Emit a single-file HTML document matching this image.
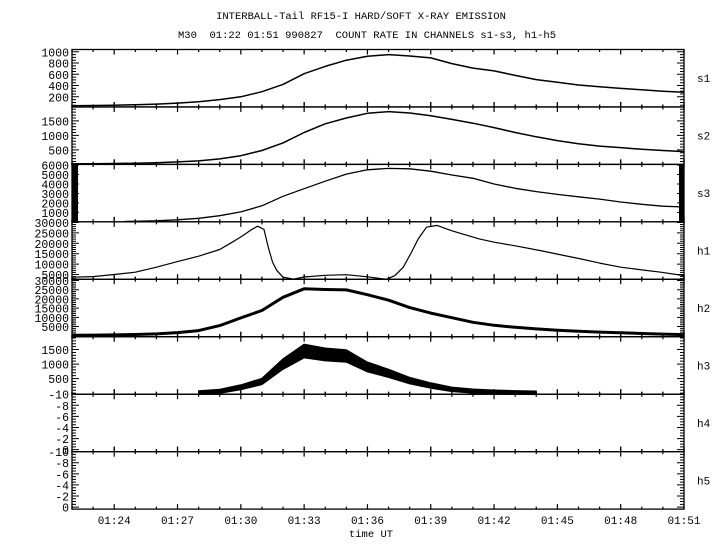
<!DOCTYPE html>
<html><head><meta charset="utf-8"><style>
html,body{margin:0;padding:0;background:#fff;}
svg{display:block;}
text{font-family:"Liberation Mono","DejaVu Sans Mono",monospace;fill:#000;}
</style></head><body>
<svg id="chart" width="720" height="550" viewBox="0 0 720 550" xmlns="http://www.w3.org/2000/svg">
<text x="361" y="19" font-size="10.5" text-anchor="middle">INTERBALL-Tail RF15-I HARD/SOFT X-RAY EMISSION</text>
<text x="367" y="38" font-size="10.5" text-anchor="middle" xml:space="preserve">M30  01:22 01:51 990827  COUNT RATE IN CHANNELS s1-s3, h1-h5</text>
<text x="371" y="537" font-size="10.5" text-anchor="middle">time UT</text>
<g id="plots"></g>
</svg>
<script>
// ---- data ----
const panelNames = ["s1","s2","s3","h1","h2","h3","h4","h5"];
const timeTickLabels = ["01:24","01:27","01:30","01:33","01:36","01:39","01:42","01:45","01:48","01:51"];
const timeTickMinutes = [2,5,8,11,14,17,20,23,26,29];
const minuteTimes = [0,1,2,3,4,5,6,7,8,9,10,11,12,13,14,15,16,17,18,19,20,21,22,23,24,25,26,27,28,29];
const s1Values = [40,45,50,60,70,88,112,150,200,290,420,610,740,850,920,950,925,890,790,710,660,580,505,460,410,380,350,325,300,280];
const s2Values = [20,25,30,40,60,85,120,190,300,480,740,1100,1400,1600,1760,1820,1770,1680,1550,1420,1270,1100,950,820,710,630,580,520,480,440];
const s3Times = [2.5,3,4,5,6,7,8,9,10,11,12,13,14,15,16,17,18,19,20,21,22,23,24,25,26,27,28,29];
const s3Values = [50,60,110,220,380,650,1050,1700,2700,3500,4300,5050,5500,5650,5600,5350,4950,4600,4000,3550,3200,2900,2650,2400,2100,1850,1650,1570];
const h1Times = [0,1,2,3,4,5,6,7,7.5,8,8.5,8.8,9.1,9.3,9.5,9.7,10,10.5,11,12,13,14,14.9,15.3,15.7,16.1,16.4,16.8,17.3,18,19.3,20,21,22.2,23,24.1,25,26,27,27.9,29];
const h1Values = [3700,4000,5000,6100,8500,11200,13800,17000,20000,23000,26500,28200,26600,18000,11000,7000,3700,2800,3800,4600,4900,3900,2700,4500,8500,16000,22000,27700,28600,26000,22100,20500,18800,16500,14800,12500,10500,8500,7200,6100,4500];
const h2Values = [300,350,450,700,1000,1700,2800,5500,9700,13700,20900,25500,25100,24900,22300,19300,15300,12300,9800,7300,5700,4600,3700,3000,2500,2000,1600,1200,900,650];
const h3Times = [6,7,8,9,10,11,12,13,14,15,16,17,18,19,20,21,22];
const h3Values = [15,60,200,400,1000,1450,1330,1280,900,680,430,260,130,70,40,20,10];
const s1Ticks = [200,400,600,800,1000];
const s2Ticks = [500,1000,1500];
const s3Ticks = [1000,2000,3000,4000,5000,6000];
const h1Ticks = [5000,10000,15000,20000,25000,30000];
const h2Ticks = [5000,10000,15000,20000,25000,30000];
const h3Ticks = [500,1000,1500];
const hEmptyTicks = [-10,-8,-6,-4,-2,0];

// ---- layout ----
const NS="http://www.w3.org/2000/svg";
const X0=72, X1=684, TMAX=29, TOP=49.5, PH=57.45;
const g=document.getElementById('plots');
function xs(t){return X0+(X1-X0)*t/TMAX;}
function el(tag,attrs,parent){const e=document.createElementNS(NS,tag);for(const k in attrs)e.setAttribute(k,attrs[k]);(parent||g).appendChild(e);return e;}
const cfg=[
 {ticks:s1Ticks,ymin:20,ymax:1040,minor:50},
 {ticks:s2Ticks,ymin:0,ymax:1980,minor:100},
 {ticks:s3Ticks,ymin:0,ymax:6070,minor:500},
 {ticks:h1Ticks,ymin:2700,ymax:30290,minor:1000},
 {ticks:h2Ticks,ymin:-540,ymax:30650,minor:1000},
 {ticks:h3Ticks,ymin:-38,ymax:1941,minor:100},
 {ticks:hEmptyTicks,ymin:0.36,ymax:-10,minor:0.5},
 {ticks:hEmptyTicks,ymin:0.36,ymax:-10,minor:0.5}
];
function yScale(i){const c=cfg[i];const top=TOP+i*PH,bot=top+PH;return v=>bot-(v-c.ymin)/(c.ymax-c.ymin)*(bot-top);}

for(let i=0;i<8;i++){
  const c=cfg[i];const top=TOP+i*PH,bot=top+PH;const ys=yScale(i);
  const pg=el('g',{});
  
  
  const r=el('rect',{x:X0,y:top,width:X1-X0,height:PH,fill:'none',stroke:'#000','stroke-width':1.3},pg);
  
  
  // minor y ticks
  const lo=Math.min(c.ymin,c.ymax),hi=Math.max(c.ymin,c.ymax);
  let d='';
  for(let v=Math.ceil(lo/c.minor)*c.minor;v<=hi;v+=c.minor){const y=ys(v);if(y<top||y>bot)continue;d+=`M${X0},${y}h4M${X1},${y}h-4`;}
  c.ticks.forEach(v=>{const y=ys(v);d+=`M${X0},${y}h7M${X1},${y}h-7`;});
  el('path',{d:d,stroke:'#000','stroke-width':1,fill:'none'},pg);
  c.ticks.forEach(v=>{
    const t=el('text',{x:69,y:ys(v)+4.5,'font-size':11.5,'text-anchor':'end'},pg);
    t.textContent=String(v);
    
    
  });
  // x ticks at top & bottom borders
  let dx='';
  for(let m=0;m<=TMAX;m++){const x=xs(m);const maj=timeTickMinutes.includes(m);const L=maj?5:2.5;
    if(i>0||true) dx+=`M${x},${top}v${L}`;
    dx+=`M${x},${bot}v${-L}`;
    if(i>0) dx+=`M${x},${top}v${-L}`;
  }
  el('path',{d:dx,stroke:'#000','stroke-width':1.2,fill:'none'},pg);
  const lb=el('text',{x:697,y:top+PH/2+4,'font-size':11},pg);
  lb.textContent=panelNames[i];
  
  
}
// s3 black edge bars
const sTop=TOP+2*PH;
const b1=el('rect',{x:X0,y:sTop+1,width:6,height:PH-1,fill:'#000'});


const b2=el('rect',{x:X1-5,y:sTop+1,width:5,height:PH-1,fill:'#000'});



function stepPath(times,vals,i){const ys=yScale(i);let d='';for(let k=0;k<times.length;k++){const x=xs(times[k]),y=ys(vals[k]);d+=(k?'L':'M')+x.toFixed(1)+','+y.toFixed(1);}return d;}
function series(name,times,vals,i,w){
  const p=el('path',{d:stepPath(times,vals,i),fill:'none',stroke:'#000','stroke-width':w,'stroke-linejoin':'round'});
  
  
}
series('series-s1',minuteTimes,s1Values,0,1.5);
series('series-s2',minuteTimes,s2Values,1,1.5);
series('series-s3',s3Times,s3Values,2,1.3);
series('series-h1',h1Times,h1Values,3,1.2);
series('series-h2',minuteTimes,h2Values,4,3);
// h3 noisy band
(function(){const ys=yScale(5);let up='',dn=[];
  for(let k=0;k<h3Times.length;k++){const x=xs(h3Times[k]);const y=ys(h3Values[k]);const hw=1.8+h3Values[k]*0.0035;
    up+=(k?'L':'M')+x.toFixed(1)+','+(y-hw).toFixed(1);dn.unshift('L'+x.toFixed(1)+','+(y+hw).toFixed(1));}
  const p=el('path',{d:up+dn.join('')+'Z',fill:'#000',stroke:'#000','stroke-width':1});
  
  
})();
// time labels
timeTickLabels.forEach((s,k)=>{
  const t=el('text',{x:xs(timeTickMinutes[k]),y:524,'font-size':11,'text-anchor':'middle'});
  t.textContent=s;
  
  
});
</script>
</body></html>
